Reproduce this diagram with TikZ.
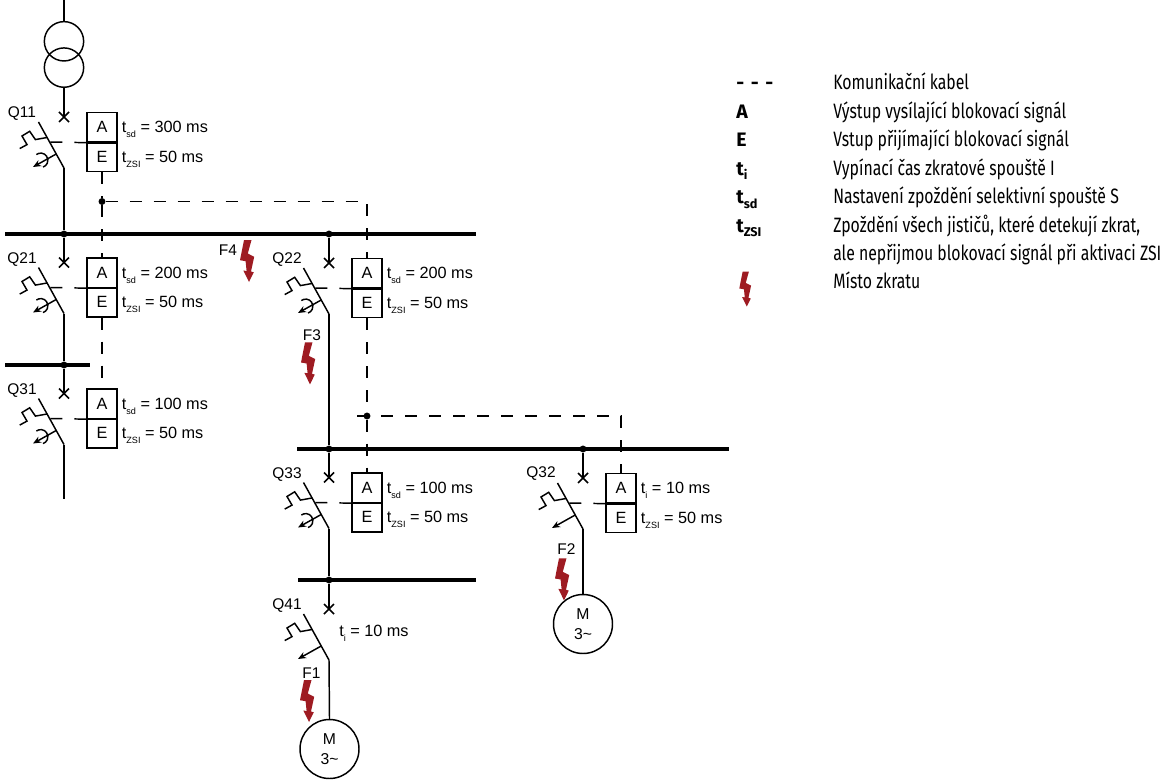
\documentclass[tikz,border=0pt]{standalone}
\usepackage{fontspec}
\setmainfont{Liberation Sans}
\newfontfamily\legfont[FakeStretch=0.76]{Fira Sans}
\newfontfamily\legsym{Fira Sans}
\usetikzlibrary{calc,arrows.meta}
\definecolor{boltred}{RGB}{158,27,34}
\newcommand\dgf{\fontsize{11.6}{13}\selectfont}
\newcommand\tvf{\fontsize{12.2}{13}\selectfont}
\newcommand\sbs[1]{\raisebox{-3.8pt}{\fontsize{6.8}{7}\selectfont #1}}
\newcommand\lsb[1]{\raisebox{-3.5pt}{\fontsize{9.5}{10}\selectfont #1}}
\tikzset{
  wire/.style={line width=1.1pt},
  bus/.style={line width=2.3pt},
  comm/.style={line width=1.1pt, dash pattern=on 9pt off 9pt},
  cell/.style={draw, line width=1pt, minimum width=22.5pt, minimum height=22.125pt, inner sep=0pt, font=\tvf},
  lbl/.style={font=\dgf, inner sep=0pt},
  tv/.style={font=\tvf, inner sep=0pt, anchor=base west},
  dot/.style={circle, fill, inner sep=0pt, minimum size=5.2pt},
  trafo/.style={circle, draw, line width=1.1pt, minimum size=29.5pt, inner sep=0pt},
  motor/.style={circle, draw, line width=1.1pt, minimum size=44.25pt, inner sep=0pt, align=center, font=\fontsize{11.8}{14.5}\selectfont},
  leg/.style={font=\legfont\fontsize{15.6}{16}\selectfont, inner sep=0pt, anchor=base west},
  legs/.style={font=\legsym\bfseries\fontsize{14.6}{16}\selectfont, inner sep=0pt, anchor=base west},
}
\newcommand\brk[5]{%
 \begin{scope}[shift={(#2,#3)}]
  \draw[wire] (-5,-5)--(5,5) (-5,5)--(5,-5);
  \draw[wire] (-25.5,5)--(0,51);
  \draw[wire,line join=miter] (-17,20.5)--(-28.6,22.6)--(-34.3,14.3)--(-42,19)--(-37,27.6)--(-44.3,31.6);
  \draw[wire,-{Stealth[length=6pt,width=5pt]}] (-7.8,37)--(-31,50);
  \ifnum#4=1 \draw[wire] (-23.3,43.3) ++(127:5.4pt) arc[start angle=127,end angle=-71,radius=5.4pt];\fi
  \coordinate (#1top) at (0,0);
  \coordinate (#1bot) at (0,51);
  \coordinate (#1bl) at (-14.4,25);
  \ifnum#5=1
   \node[cell] (#1a) at (38,10.25) {A};
   \node[cell] (#1e) at (38,39.75) {E};
   \draw[line width=1.5pt] (#1a.south west) -- (#1a.south east);
   \draw[comm] (#1a.south west) -- (#1bl);
  \fi
 \end{scope}}
\newcommand\bolt[4]{\fill[boltred,shift={(#2,#3)},scale=#4] (4,0)--(11.5,0)--(7.8,13.5)--(14.2,16.8)--(11,31.5)--(13.8,32.3)--(9,42)--(3.3,30.5)--(6.6,31)--(5.6,21.2)--(0,20.2)--cycle;}
\begin{document}
\begin{tikzpicture}[x=0.75pt,y=-0.75pt]
\useasboundingbox (0,0) rectangle (1170,781);
% transformer
\coordinate (top) at (64,0);
\node[trafo] (t1) at (64,41.3) {};
\node[trafo] (t2) at (64,67.6) {};
% breakers
\brk{q11}{64}{117}{1}{1}
\brk{q21}{64}{262.5}{1}{1}
\brk{q31}{64}{393.5}{1}{1}
\brk{q22}{329}{263}{1}{1}
\brk{q33}{329}{477.5}{1}{1}
\brk{q32}{583}{478}{0}{1}
\brk{q41}{329}{609}{0}{0}
% labels
\node[lbl] (l11) at (22,114) {Q11};
\node[lbl] (l21) at (22,259.5) {Q21};
\node[lbl] (l31) at (22,390.5) {Q31};
\node[lbl] (l22) at (287,260) {Q22};
\node[lbl] (l33) at (287,474.5) {Q33};
\node[lbl] (l32) at (541,474) {Q32};
\node[lbl] (l41) at (287,606) {Q41};
% busbars
\coordinate (b1l) at (5,234);   \coordinate (b1r) at (476,234);
\coordinate (b2l) at (5,365);   \coordinate (b2r) at (90,365);
\coordinate (b3l) at (297,449); \coordinate (b3r) at (729,449);
\coordinate (b4l) at (298,580); \coordinate (b4r) at (476,580);
\draw[bus] (b1l) -- (b1r);
\draw[bus] (b2l) -- (b2r);
\draw[bus] (b3l) -- (b3r);
\draw[bus] (b4l) -- (b4r);
\node[dot] (j1) at (64,234) {};
\node[dot] (j2) at (64,365) {};
\node[dot] (j3) at (329,234) {};
\node[dot] (j4) at (329,449) {};
\node[dot] (j5) at (329,580) {};
\node[dot] (j6) at (583,449) {};
\coordinate (end31) at (64,499);
% motors
\node[motor] (m1) at (329.5,749) {M\\3\textasciitilde};
\node[motor] (m2) at (583,624) {M\\3\textasciitilde};
% wires
\draw[wire] (top) -- (t1.north);
\draw[wire] (t2.south) -- (q11top);
\draw[wire] (q11bot) -- (j1);
\draw[wire] (j1) -- (q21top);
\draw[wire] (q21bot) -- (j2);
\draw[wire] (j2) -- (q31top);
\draw[wire] (q31bot) -- (end31);
\draw[wire] (j3) -- (q22top);
\draw[wire] (q22bot) -- (j4);
\draw[wire] (j4) -- (q33top);
\draw[wire] (q33bot) -- (j5);
\draw[wire] (j5) -- (q41top);
\draw[wire] (q41bot) -- (m1.north);
\draw[wire] (j6) -- (q32top);
\draw[wire] (q32bot) -- (m2.north);
% communication
\node[dot] (d1) at (102,201.5) {};
\node[dot] (d2) at (367,416) {};
\coordinate (stub) at (357,416);
\draw[comm] (q11e.south) -- (d1);
\draw[comm] (d1) -- (d1 -| q22a.north) -- (q22a.north);
\draw[comm] (d1) -- (q21a.north);
\draw[comm] (q21e.south) -- (q31a.north);
\draw[comm] (q22e.south) -- (d2);
\draw[comm] (d2) -- (q33a.north);
\draw[comm] (stub) -- (d2 -| q32a.north) -- (q32a.north);
% settings
\node[tv] (s11a) at ($(q11a.east)+(4,5.5)$) {t\sbs{sd} = 300 ms};
\node[tv] (s11e) at ($(q11e.east)+(4,5.5)$) {t\sbs{ZSI} = 50 ms};
\node[tv] (s21a) at ($(q21a.east)+(4,5.5)$) {t\sbs{sd} = 200 ms};
\node[tv] (s21e) at ($(q21e.east)+(4,5.5)$) {t\sbs{ZSI} = 50 ms};
\node[tv] (s31a) at ($(q31a.east)+(4,5.5)$) {t\sbs{sd} = 100 ms};
\node[tv] (s31e) at ($(q31e.east)+(4,5.5)$) {t\sbs{ZSI} = 50 ms};
\node[tv] (s22a) at ($(q22a.east)+(4,5.5)$) {t\sbs{sd} = 200 ms};
\node[tv] (s22e) at ($(q22e.east)+(4,5.5)$) {t\sbs{ZSI} = 50 ms};
\node[tv] (s33a) at ($(q33a.east)+(4,5.5)$) {t\sbs{sd} = 100 ms};
\node[tv] (s33e) at ($(q33e.east)+(4,5.5)$) {t\sbs{ZSI} = 50 ms};
\node[tv] (s32a) at ($(q32a.east)+(4,5.5)$) {t\sbs{i} = 10 ms};
\node[tv] (s32e) at ($(q32e.east)+(4,5.5)$) {t\sbs{ZSI} = 50 ms};
\node[tv] (s41) at (339,636.7) {t\sbs{i} = 10 ms};
% faults
\node[lbl] (f4) at (228,250) {F4};
\node[lbl] (f3) at (312,335) {F3};
\node[lbl] (f2) at (566.5,549) {F2};
\node[lbl] (f1) at (311.5,673) {F1};
\bolt{b4}{240}{240}{1}
\bolt{b3}{301}{342.3}{1}
\bolt{b2}{555}{558.3}{1}
\bolt{b1}{300}{680}{1}
% legend
\node[legs] (k0) at (736,90) {-\hspace{5pt}-\hspace{5pt}-};
\node[leg] (k1) at (833,90) {Komunikační kabel};
\node[legs] (kA) at (736,118.4) {A};
\node[leg] (k2) at (833,118.4) {Výstup vysílající blokovací signál};
\node[legs] (kE) at (736,146.8) {E};
\node[leg] (k3) at (833,146.8) {Vstup přijímající blokovací signál};
\node[legs] (kti) at (736,175.2) {t\lsb{i}};
\node[leg] (k4) at (833,175.2) {Vypínací čas zkratové spouště I};
\node[legs] (ktsd) at (736,203.6) {t\lsb{sd}};
\node[leg] (k5) at (833,203.6) {Nastavení zpoždění selektivní spouště S};
\node[legs] (ktz) at (736,232) {t\lsb{ZSI}};
\node[leg] (k6) at (833,232) {Zpoždění všech jističů, které detekují zkrat,};
\node[leg] (k7) at (833,260.4) {ale nepřijmou blokovací signál při aktivaci ZSI};
\node[leg] (k8) at (833,288.8) {Místo zkratu};
\bolt{bl}{739.3}{271.7}{0.83}
\end{tikzpicture}
\end{document}
